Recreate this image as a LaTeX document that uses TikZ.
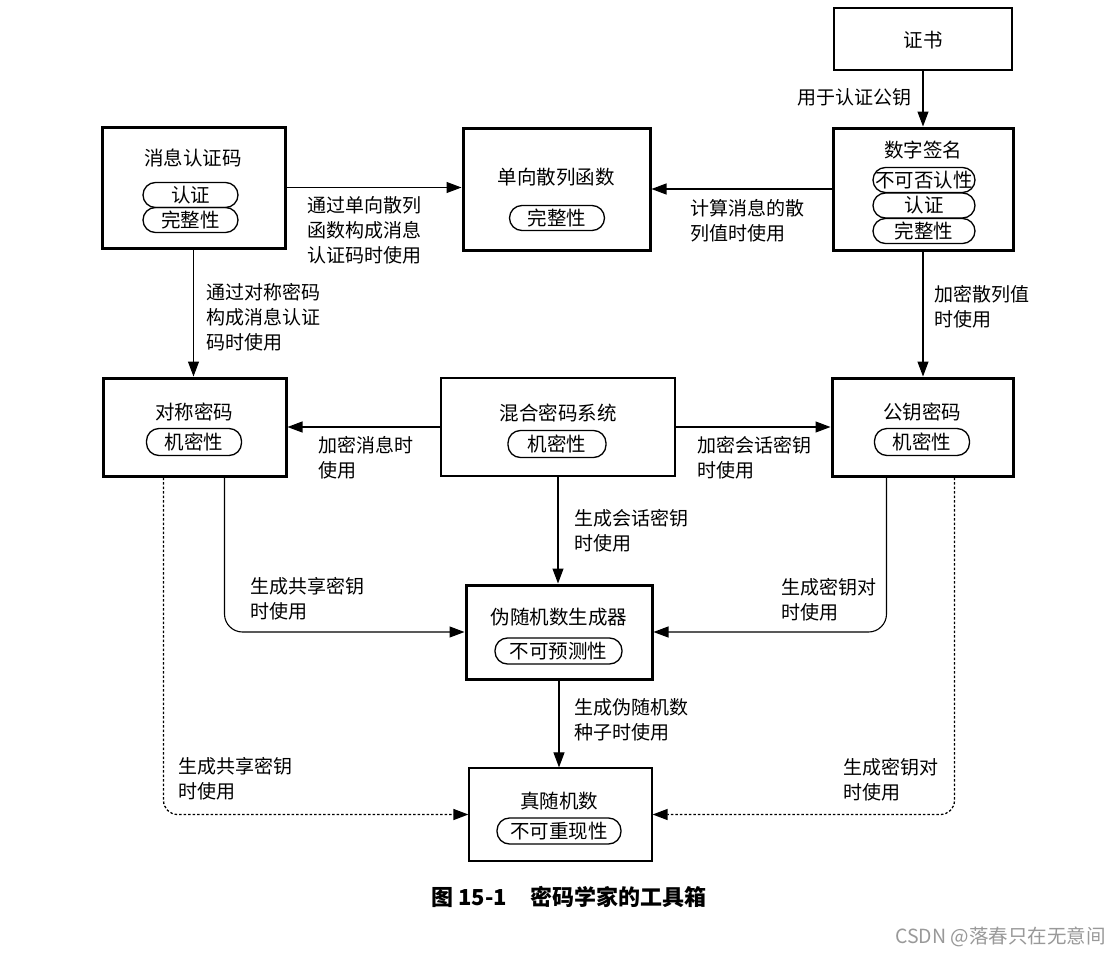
\documentclass[tikz,border=0pt]{standalone}
\usepackage{fontspec}
\newfontfamily\cjk{Noto Sans CJK SC}
\usetikzlibrary{arrows.meta,calc}
\begin{document}
\begin{tikzpicture}[x=1pt,y=-1pt,
 box/.style={draw, line width=3pt, inner sep=0pt},
 thinbox/.style={draw, line width=1.2pt, inner sep=0pt},
 ttl/.style={font=\cjk\fontsize{19.5}{25}\selectfont, inner sep=0pt},
 pill/.style={draw, line width=1.3pt, rounded corners=12.5pt, minimum height=25pt, inner sep=0pt, font=\cjk\fontsize{19.5}{25}\selectfont},
 lbl/.style={font=\cjk\fontsize{19}{25}\selectfont, align=left, inner sep=0pt, anchor=north west},
 arr/.style={line width=1.1pt, -{Triangle[length=15pt,width=11pt]}},
 dotarr/.style={arr, line width=1.3pt, dash pattern=on 2.5pt off 2pt},
]
\fill[white] (0,0) rectangle (1120,956);
\useasboundingbox (0,0) rectangle (1120,956);

% boxes
\node[thinbox, minimum width=178pt, minimum height=62pt] (cert) at (923,39) {};
\node[ttl] (certT) at (923,40) {证书};

\node[box, minimum width=180pt, minimum height=122pt] (ds) at (923,189) {};
\node[ttl] (dsT) at (923,150) {数字签名};
\node[pill, minimum width=102pt] (ds1) at (924,180) {不可否认性};
\node[pill, minimum width=102pt] (ds2) at (924,205.5) {认证};
\node[pill, minimum width=102pt] (ds3) at (924,231) {完整性};

\node[box, minimum width=183pt, minimum height=121pt] (mac) at (193.5,187.5) {};
\node[ttl] (macT) at (193,158) {消息认证码};
\node[pill, minimum width=95pt] (mac1) at (190.5,195) {认证};
\node[pill, minimum width=95pt] (mac2) at (190.5,220) {完整性};

\node[box, minimum width=187pt, minimum height=122pt] (hash) at (556.5,189) {};
\node[ttl] (hashT) at (556,177) {单向散列函数};
\node[pill, minimum width=95pt] (hash1) at (557,218) {完整性};

\node[box, minimum width=183pt, minimum height=98pt] (sym) at (194.5,427) {};
\node[ttl] (symT) at (194,412) {对称密码};
\node[pill, minimum width=95pt, minimum height=27pt] (sym1) at (194,442) {机密性};

\node[thinbox, minimum width=234pt, minimum height=98pt] (hyb) at (558,427) {};
\node[ttl] (hybT) at (558,413) {混合密码系统};
\node[pill, minimum width=98pt, minimum height=27pt] (hyb1) at (557,444) {机密性};

\node[box, minimum width=181pt, minimum height=98pt] (pkc) at (922.5,427) {};
\node[ttl] (pkcT) at (922,412) {公钥密码};
\node[pill, minimum width=95pt, minimum height=27pt] (pkc1) at (922,442) {机密性};

\node[box, minimum width=186pt, minimum height=94pt] (prng) at (559,632) {};
\node[ttl] (prngT) at (559,617) {伪随机数生成器};
\node[pill, minimum width=127pt, minimum height=26pt] (prng1) at (558.5,651) {不可预测性};

\node[thinbox, minimum width=183pt, minimum height=93pt] (trng) at (560.5,814.5) {};
\node[ttl] (trngT) at (559,801) {真随机数};
\node[pill, minimum width=124pt, minimum height=26pt] (trng1) at (559,831) {不可重现性};

% connectors
\draw[arr] (cert) -- (ds);
\node[lbl, anchor=east] (l1) at (912,97) {用于认证公钥};

\draw[arr] (mac.east) -- (mac.east -| hash.west);
\node[lbl] (l2) at (307,196.5) {通过单向散列\\函数构成消息\\认证码时使用};

\draw[arr] (ds.west) -- (ds.west -| hash.east);
\node[lbl] (l3) at (690,199.5) {计算消息的散\\列值时使用};

\draw[arr] (mac.south) -- (mac.south |- sym.north);
\node[lbl] (l4) at (206,283.5) {通过对称密码\\构成消息认证\\码时使用};

\draw[arr] (ds.south) -- (ds.south |- pkc.north);
\node[lbl] (l5) at (934,285) {加密散列值\\时使用};

\draw[arr] (hyb.west) -- (hyb.west -| sym.east);
\node[lbl] (l6) at (318,436) {加密消息时\\使用};

\draw[arr] (hyb.east) -- (hyb.east -| pkc.west);
\node[lbl] (l7) at (697,436) {加密会话密钥\\时使用};

\draw[arr] (hyb.south) -- (hyb.south |- prng.north);
\node[lbl] (l8) at (574,509.5) {生成会话密钥\\时使用};

\draw[arr, rounded corners=18pt] ([xshift=123pt]sym.south west) |- (prng.west);
\node[lbl] (l9) at (250,577.5) {生成共享密钥\\时使用};

\draw[arr, rounded corners=18pt] ([xshift=-128pt]pkc.south east) |- (prng.east);
\node[lbl] (l10) at (781,578.5) {生成密钥对\\时使用};

\draw[arr] (prng.south) -- (prng.south |- trng.north);
\node[lbl] (l11) at (574,698.5) {生成伪随机数\\种子时使用};

\draw[dotarr, rounded corners=14pt] ([xshift=62pt]sym.south west) |- (trng.west);
\node[lbl] (l12) at (178,757) {生成共享密钥\\时使用};

\draw[dotarr, rounded corners=14pt] ([xshift=-60pt]pkc.south east) |- (trng.east);
\node[lbl] (l13) at (843,758) {生成密钥对\\时使用};

% caption and watermark
\node[font=\cjk\bfseries\fontsize{22}{26}\selectfont, inner sep=0pt, anchor=west] (cap) at (431,897) {图 15-1\hspace{24pt}密码学家的工具箱};
\node[font=\cjk\fontsize{19.5}{22}\selectfont, text=black!40, inner sep=0pt, anchor=east] (wm) at (1106,937) {CSDN @落春只在无意间};
\end{tikzpicture}
\end{document}
